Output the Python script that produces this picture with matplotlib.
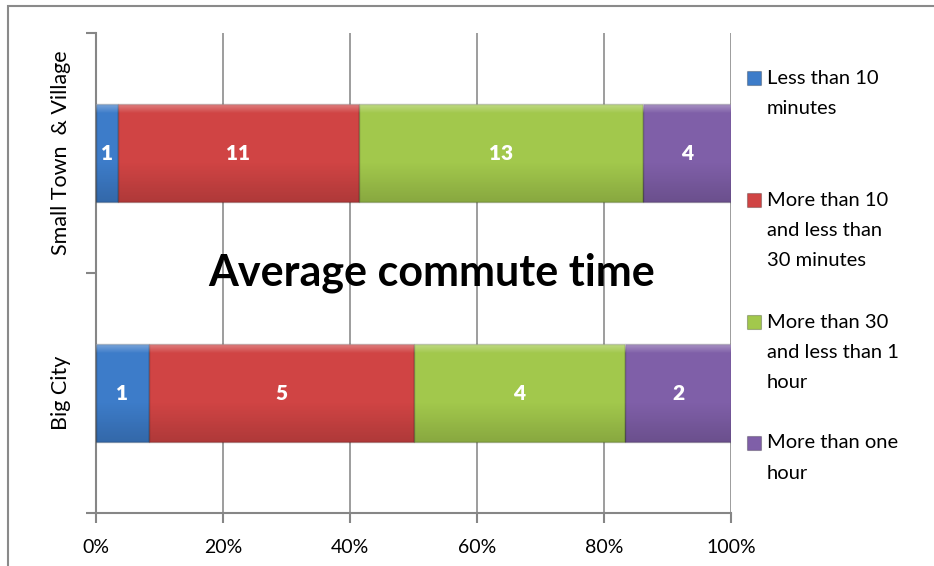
import matplotlib.pyplot as plt
import numpy as np
from matplotlib.patches import Rectangle

plt.rcParams['font.family'] = ['Lato', 'DejaVu Sans']

categories = ["Big City", "Small Town  & Village"]
series_names = ["Less than 10\nminutes",
                "More than 10\nand less than\n30 minutes",
                "More than 30\nand less than 1\nhour",
                "More than one\nhour"]
counts = np.array([[1, 5, 4, 2],
                   [1, 11, 13, 4]], dtype=float)
colors = ["#3D7CC9", "#D04444", "#A2C84C", "#7F5FA8"]
xticks = [0, 20, 40, 60, 80, 100]

shares = counts / counts.sum(axis=1, keepdims=True) * 100

W, H = 934, 566
fig = plt.figure(figsize=(W / 100, H / 100), dpi=100)
ax = fig.add_axes([96/W, 53/H, 635/W, 480/H])

# chart border (left and top visible only)
fig.patches.append(Rectangle((8/W, -0.1), 1.2, 1 - 6/H + 0.1, transform=fig.transFigure,
                             fill=False, edgecolor="#8a8a8a", linewidth=1.5, zorder=0))

# shading overlay for the bevelled look
n = 100
t = np.linspace(0, 1, n)
alpha = np.zeros(n)
alpha[t < 0.1] = 0.35 * (1 - t[t < 0.1] / 0.1)
dark = np.clip((t - 0.6) / 0.4, 0, 1) * 0.16
shade = np.zeros((n, 1, 4))
shade[:, 0, :3] = np.where(alpha[:, None] > 0, 1.0, 0.0)
shade[:, 0, 3] = np.maximum(alpha, dark)

ypos = np.arange(len(categories))
left = np.zeros(len(categories))
for j in range(len(series_names)):
    bars = ax.barh(ypos, shares[:, j], left=left, height=0.41, color=colors[j],
                   edgecolor="#00000040", linewidth=1.0, zorder=3)
    for i, p in enumerate(bars):
        x0, y0, w, h = p.get_x(), p.get_y(), p.get_width(), p.get_height()
        im = ax.imshow(shade, extent=(x0, x0 + w, y0, y0 + h), origin="upper",
                       aspect="auto", zorder=3.5, interpolation="bilinear")
        im.set_clip_path(p)
        ax.text(left[i] + shares[i, j] / 2, ypos[i], "%d" % counts[i, j],
                ha="center", va="center", color="white", fontsize=15,
                fontweight="heavy", zorder=4)
    left += shares[:, j]

ax.set_xlim(0, 100)
ax.set_ylim(-0.5, 1.5)
ax.set_xticks(xticks)
ax.set_xticklabels(["%d%%" % v for v in xticks], fontsize=14)
ax.set_yticks(ypos)
ax.set_yticklabels(categories, rotation=90, va="center", fontsize=15.5)
ax.set_yticks([-0.5, 0.5, 1.5], minor=True)
ax.tick_params(axis="y", which="major", length=0, pad=18)
ax.tick_params(axis="y", which="minor", length=7, width=1.5, color="#868686", direction="out")
ax.tick_params(axis="x", length=7, width=1.5, color="#868686", direction="out", pad=12)
ax.xaxis.grid(True, color="#8c8c8c", linewidth=1.2, zorder=0)
for s in ["top", "right"]:
    ax.spines[s].set_visible(False)
for s in ["left", "bottom"]:
    ax.spines[s].set_color("#868686")
    ax.spines[s].set_linewidth(1.5)

ax.text(0.528, 0.5, "Average commute time", transform=ax.transAxes, ha="center",
        va="center", fontsize=31, fontweight="bold", zorder=5)

# legend drawn by hand
entry_top = [78, 200, 322, 443]
line_gap = 30.5
for j, name in enumerate(series_names):
    y = entry_top[j]
    fig.patches.append(Rectangle((747/W, 1 - (y + 7)/H), 14/W, 14/H, transform=fig.transFigure,
                                 facecolor=colors[j], edgecolor="#00000040", linewidth=0.8))
    for k, line in enumerate(name.split("\n")):
        fig.text(767/W, 1 - (y + k * line_gap)/H, line, ha="left", va="center",
                 fontsize=14.5, color="black")

fig.savefig("out.png", dpi=100)
